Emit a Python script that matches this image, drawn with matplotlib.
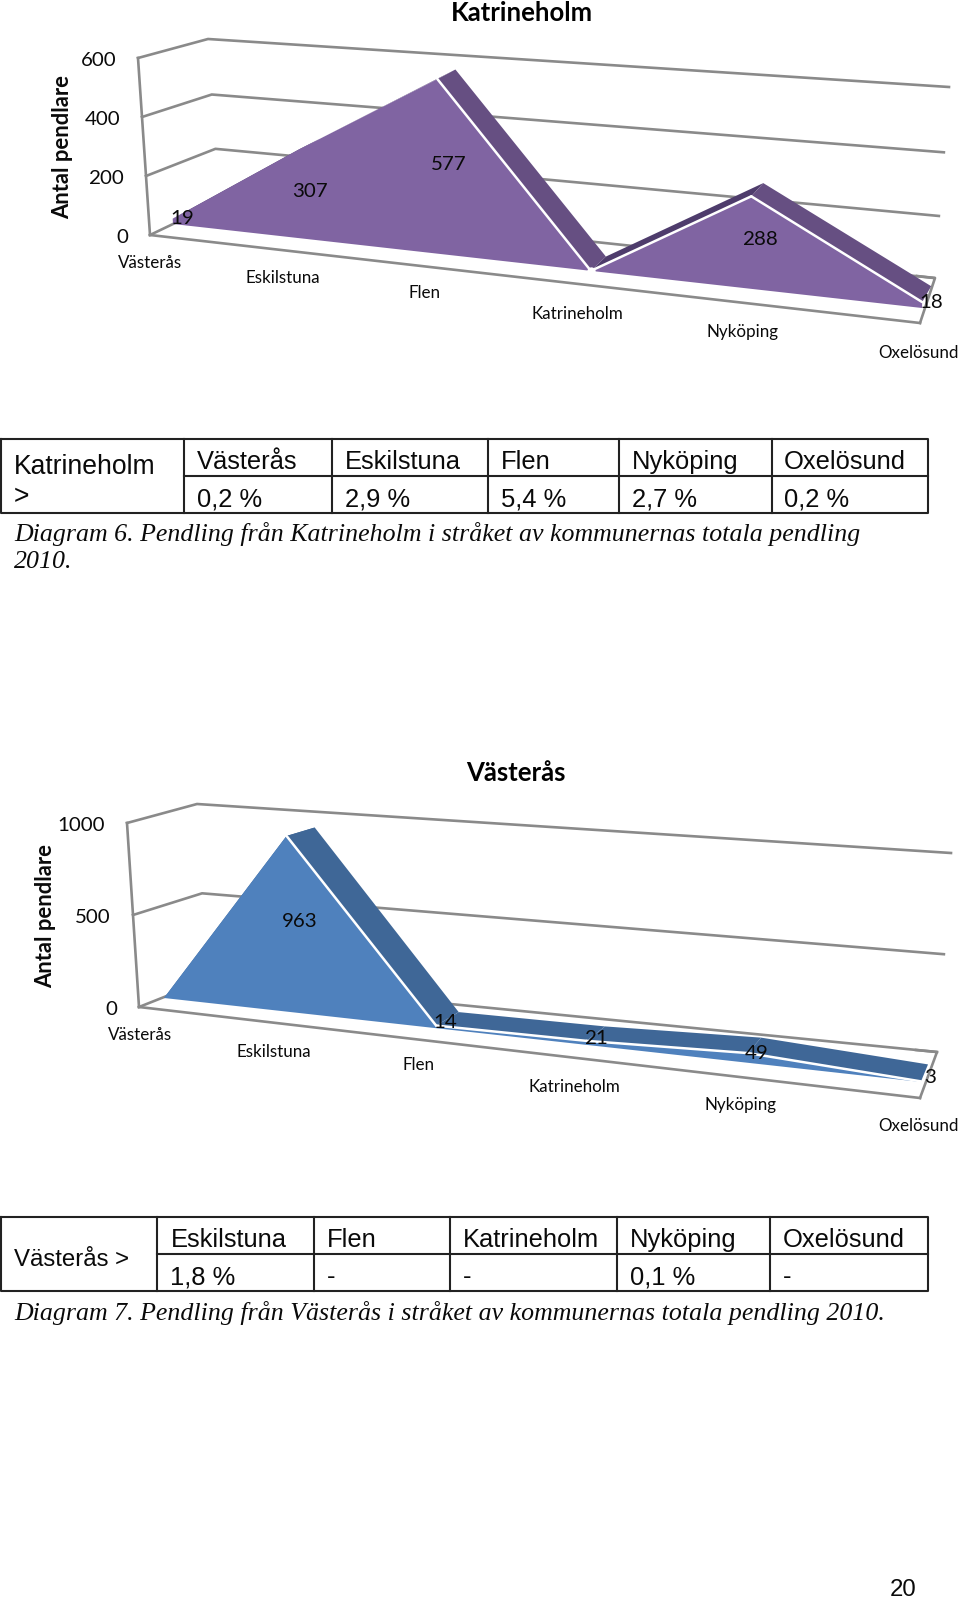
import numpy as np
import matplotlib
matplotlib.use("Agg")
import matplotlib.pyplot as plt
from matplotlib.patches import Polygon

categories = ["Västerås", "Eskilstuna", "Flen", "Katrineholm", "Nyköping", "Oxelösund"]
kat_values = [19, 307, 577, 0, 288, 18]
kat_labels = ["19", "307", "577", None, "288", "18"]
kat_ticks = [0, 200, 400, 600]
vas_values = [0, 963, 14, 21, 49, 3]
vas_labels = [None, "963", "14", "21", "49", "3"]
vas_ticks = [0, 500, 1000]

kat_t_head = ["Västerås", "Eskilstuna", "Flen", "Nyköping", "Oxelösund"]
kat_t_vals = ["0,2 %", "2,9 %", "5,4 %", "2,7 %", "0,2 %"]
vas_t_head = ["Eskilstuna", "Flen", "Katrineholm", "Nyköping", "Oxelösund"]
vas_t_vals = ["1,8 %", "-", "-", "0,1 %", "-"]

W, H = 960, 1601
fig = plt.figure(figsize=(W / 100, H / 100), dpi=100)
ax = fig.add_axes([0, 0, 1, 1])
ax.set_xlim(0, W)
ax.set_ylim(H, 0)
ax.axis("off")

def pt(px):
    return px * 0.72

def homography(src, dst):
    A, b = [], []
    for (x, y), (u, v) in zip(src, dst):
        A.append([x, y, 1, 0, 0, 0, -u * x, -u * y]); b.append(u)
        A.append([0, 0, 0, x, y, 1, -v * x, -v * y]); b.append(v)
    h = np.linalg.solve(np.array(A, float), np.array(b, float))
    return np.append(h, 1).reshape(3, 3)

def project(M, i, v):
    p = M @ np.array([i, v, 1.0])
    return p[:2] / p[2]

GRID = "#8a8a8a"
GLW = 1.9
INK = "#0a0a0a"

def draw_chart(title, title_xy, values, labels, ticks, face, side, side_up,
               front, back, wall, front_left, floor_front_right, floor_pts,
               cat_xy, ylabel_xy, label_off):
    vmax = ticks[-1]
    src = [(0, 0), (5, 0), (0, vmax), (5, vmax)]
    Mf = homography(src, front)
    Mb = homography(src, back)
    Mw = homography([(0, 0), (1, 0), (0, vmax), (1, vmax)], wall)

    # walls and gridlines
    fl0, fltop = np.array(front_left[0], float), np.array(front_left[1], float)
    for t in ticks:
        f = t / vmax
        side_pt = fl0 + (fltop - fl0) * f
        a, b = project(Mw, 0, t), project(Mw, 1, t)
        ax.plot([side_pt[0], a[0], b[0]], [side_pt[1], a[1], b[1]], color=GRID, lw=GLW, zorder=1)
        ax.text(side_pt[0] - 22, side_pt[1] + 2, f"{t}", ha="right", va="center",
                family="Lato", fontsize=pt(20.5), color=INK, zorder=6)
    ax.plot([fl0[0], fltop[0]], [fl0[1], fltop[1]], color=GRID, lw=GLW, zorder=1)
    ax.plot([fl0[0], floor_front_right[0]], [fl0[1], floor_front_right[1]], color=GRID, lw=GLW, zorder=1)
    xs, ys = zip(*floor_pts)
    ax.plot(xs, ys, color=GRID, lw=GLW, zorder=1)

    # series
    F = [project(Mf, i, v) for i, v in enumerate(values)]
    B = [project(Mb, i, v) for i, v in enumerate(values)]
    for i in range(5):
        rising = F[i + 1][1] < F[i][1]
        ax.add_patch(Polygon([F[i], F[i + 1], B[i + 1], B[i]], closed=True,
                             fc=side_up if rising else side, ec="none", zorder=2))
    base = [project(Mf, 5, 0), project(Mf, 0, 0)]
    ax.add_patch(Polygon(F + base, closed=True, fc=face, ec="none", zorder=3))
    for i in range(5):
        e = F[i + 1] - F[i]
        o = B[i] - F[i]
        width = -(e[0] * o[1] - e[1] * o[0]) / np.hypot(*e)
        if width > 3:
            ax.plot([F[i][0], F[i + 1][0]], [F[i][1], F[i + 1][1]], color="white", lw=1.8,
                    zorder=4, solid_capstyle="round")
    for i, v in enumerate(values):
        if v == 0 and 0 < i < 5:
            ax.plot([F[i][0]], [F[i][1]], marker="o", ms=6, mfc="white", mec="none", zorder=4)

    # labels
    for i, (v, lab) in enumerate(zip(values, labels)):
        if lab is None:
            continue
        p = project(Mf, i, v / 2) + np.array(label_off)
        ax.text(p[0], p[1], lab, ha="center", va="center", family="Lato",
                fontsize=pt(20.5), color=INK, zorder=6)
    for cat, (x, y) in zip(categories, cat_xy):
        ax.text(x, y, cat, ha="center", va="center", family="Lato", fontsize=pt(17),
                color=INK, zorder=6)
    ax.text(title_xy[0], title_xy[1], title, ha="center", va="center", family="Lato",
            fontweight="bold", fontsize=pt(25.7), color="black")
    ax.text(ylabel_xy[0], ylabel_xy[1], "Antal pendlare", rotation=90, ha="center", va="center",
            family="Lato", fontweight="bold", fontsize=pt(22), color=INK)

def draw_table(y0, y1, ym, xs, merged, merged_pos, merged_size, heads, vals, text_x, head_y, val_y):
    lw = 1.5
    ax.plot([1, 928, 928, 1, 1], [y0, y0, y1, y1, y0], color="#222222", lw=lw)
    ax.plot([xs[0], 928], [ym, ym], color="#222222", lw=lw)
    for x in xs:
        ax.plot([x, x], [y0, y1], color="#222222", lw=lw)
    tf = dict(family="Liberation Sans", color=INK, va="center", ha="left")
    for (t, y) in zip(merged, merged_pos):
        ax.text(14, y, t, fontsize=pt(merged_size), **tf)
    for t, x in zip(heads, text_x):
        ax.text(x, head_y, t, fontsize=pt(25.5), **tf)
    for t, x in zip(vals, text_x):
        ax.text(x, val_y, t, fontsize=pt(25.5), **tf)

draw_chart("Katrineholm", (522, 13), kat_values, kat_labels, kat_ticks,
           "#8064A2", "#664F82", "#4E3C6C",
           front=[(173, 224), (922, 308), (163, 53), (928, 106)],
           back=[(197, 212), (931, 292), (187, 45), (937, 94)],
           wall=[(219, 202), (934, 278), (208, 39), (949, 87)],
           front_left=[(150, 235), (138, 58)],
           floor_front_right=(920, 323),
           floor_pts=[(920, 323), (935, 278), (917, 276)],
           cat_xy=[(150, 263), (283, 278), (424, 293), (577, 314), (742, 332), (918.5, 353)],
           ylabel_xy=(63, 147), label_off=(9, -3))

draw_table(439, 513, 476, [184, 332, 488, 619, 771.5], ["Katrineholm", ">"], [467, 497], 26.5,
           kat_t_head, kat_t_vals, [197, 345, 501, 632, 784], 462, 499)
cap = dict(family="Liberation Serif", style="italic", fontsize=pt(25.85), color=INK,
           va="center", ha="left")
ax.text(14, 534, "Diagram 6. Pendling från Katrineholm i stråket av kommunernas totala pendling", **cap)
ax.text(14, 562, "2010.", **cap)

draw_chart("Västerås", (516, 773), vas_values, vas_labels, vas_ticks,
           "#4F81BD", "#3F6797", "#3F6797",
           front=[(164, 998), (921, 1082), (152, 820), (926, 872)],
           back=[(192, 986), (928, 1065), (183, 812), (933, 862)],
           wall=[(207, 980), (937, 1052), (197, 804), (951, 853)],
           front_left=[(139, 1007), (127, 823)],
           floor_front_right=(920, 1098),
           floor_pts=[(920, 1098), (937, 1052), (916, 1050)],
           cat_xy=[(140, 1035), (274, 1052), (418, 1065), (574, 1087), (740, 1105), (918.5, 1126)],
           ylabel_xy=(46, 916), label_off=(9, -4))

draw_table(1217, 1291, 1254, [157, 314, 449.5, 617, 770], ["Västerås >"], [1260], 24,
           vas_t_head, vas_t_vals, [170.5, 327, 462.5, 630, 783], 1240, 1277)
ax.text(14, 1313, "Diagram 7. Pendling från Västerås i stråket av kommunernas totala pendling 2010.", **cap)
ax.text(903, 1590, "20", family="Liberation Sans", fontsize=pt(24), ha="center", va="center", color=INK)

fig.savefig("out.png", dpi=100)
